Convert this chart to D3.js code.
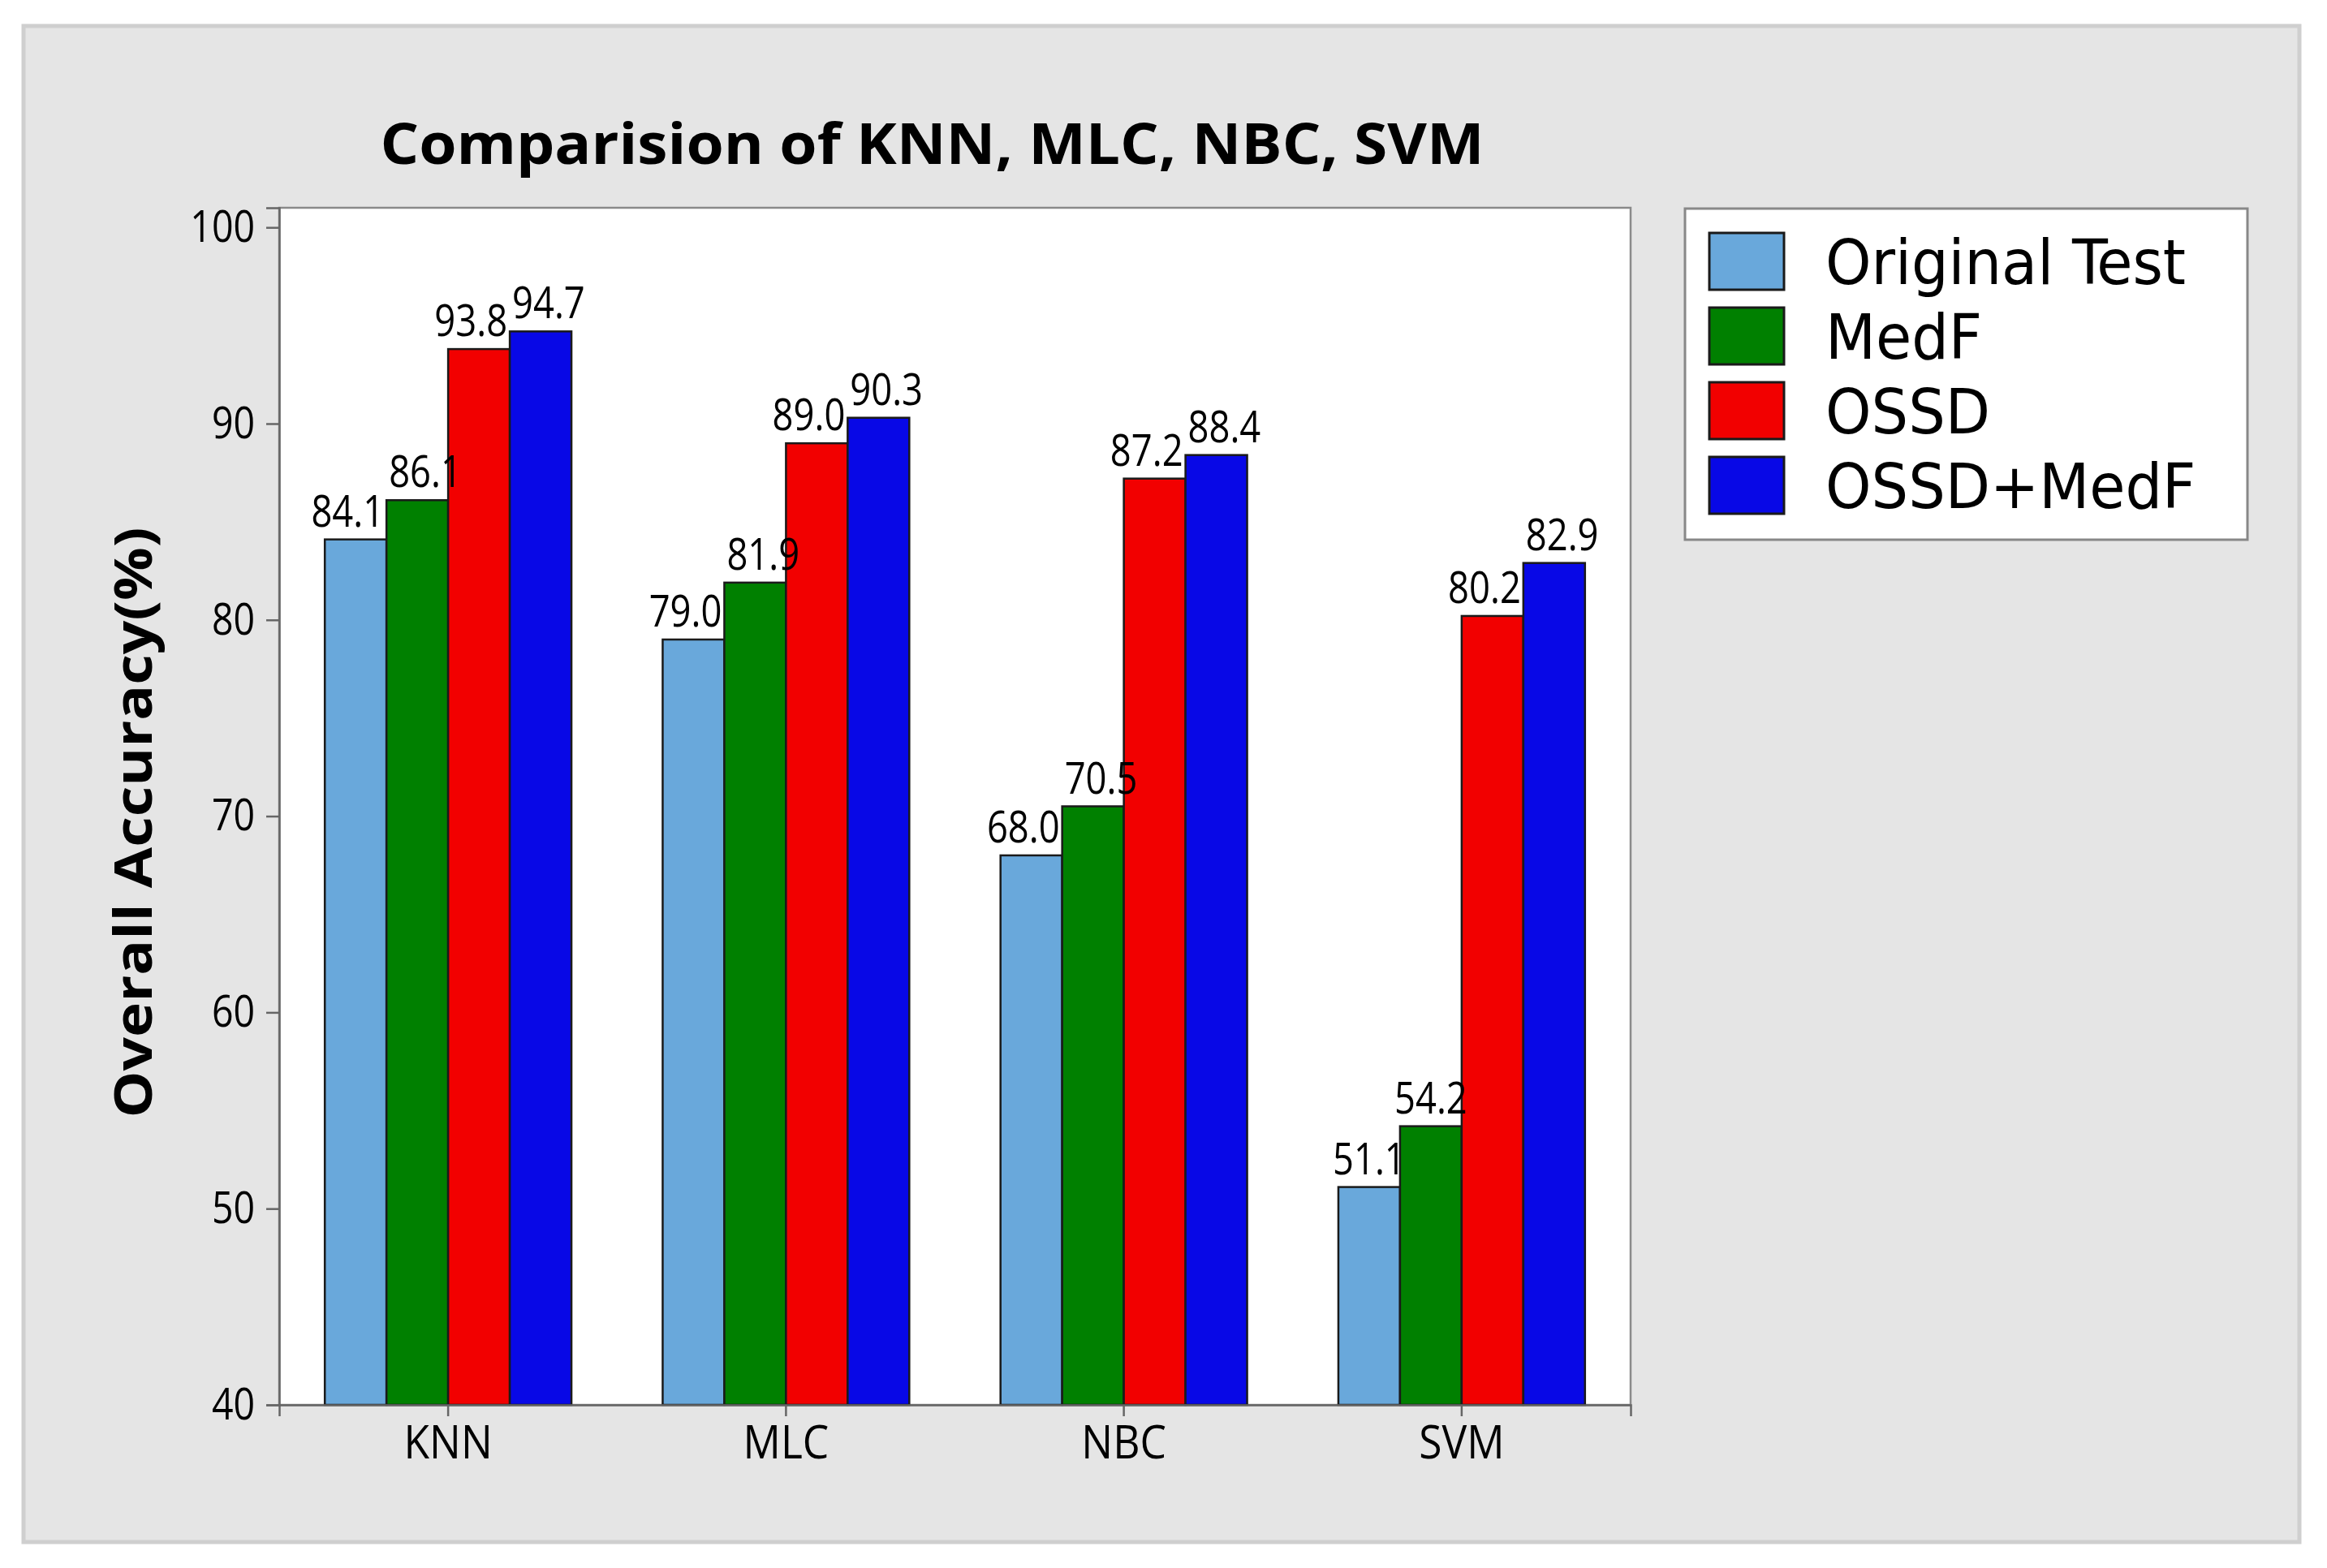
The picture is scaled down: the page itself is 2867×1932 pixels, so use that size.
<!DOCTYPE html>
<html><head><meta charset="utf-8">
<script src="https://cdn.jsdelivr.net/npm/d3@7"></script>
<style>body{margin:0;background:#fff}svg{display:block}</style>
</head><body>
<script>
const categories = ["KNN", "MLC", "NBC", "SVM"];
const seriesNames = ["Original Test", "MedF", "OSSD", "OSSD+MedF"];
const originalTest = [84.1, 79.0, 68.0, 51.1];
const medF = [86.1, 81.9, 70.5, 54.2];
const ossd = [93.8, 89.0, 87.2, 80.2];
const ossdMedF = [94.7, 90.3, 88.4, 82.9];
const yTicks = [40, 50, 60, 70, 80, 90, 100];
const colors = ["#69a8db", "#008000", "#f20000", "#0808e6"];

const seriesValues = [originalTest, medF, ossd, ossdMedF];
const W = 2867, H = 1932;
const M = {left: 344, right: 2009, top: 256, bottom: 1731};

const svg = d3.select("body").append("svg").attr("width", W).attr("height", H);
const font = "'Open Sans', 'Noto Sans', sans-serif";
const legendFont = "'DejaVu Sans Condensed', 'DejaVu Sans', sans-serif";

function condense(sel, f) {
  sel.each(function() {
    const n = this.getComputedTextLength();
    d3.select(this).attr("textLength", n * f).attr("lengthAdjust", "spacingAndGlyphs");
  });
}

// background panel
svg.append("rect").attr("x", 29).attr("y", 32).attr("width", 2804).attr("height", 1868)
  .attr("fill", "#e5e5e5").attr("stroke", "#cfcfcf").attr("stroke-width", 5);

// plot area
svg.append("rect").attr("x", M.left).attr("y", M.top)
  .attr("width", M.right - M.left).attr("height", M.bottom - M.top)
  .attr("fill", "#fff").attr("stroke", "#8a8a8a").attr("stroke-width", 2.5);

const x0 = d3.scaleBand().domain(categories).range([M.left, M.right])
  .paddingInner(0.27).paddingOuter(0.135);
const x1 = d3.scaleBand().domain(seriesNames).range([0, x0.bandwidth()]);
const y = d3.scaleLinear().domain([40, 101]).range([M.bottom, M.top]);

// bars
const groups = svg.append("g").selectAll("g").data(categories).join("g")
  .attr("transform", d => `translate(${x0(d)},0)`);
groups.selectAll("rect").data((c, ci) => seriesNames.map((s, si) => ({s, si, v: seriesValues[si][ci]})))
  .join("rect")
  .attr("x", d => x1(d.s)).attr("width", x1.bandwidth())
  .attr("y", d => y(d.v)).attr("height", d => y(40) - y(d.v))
  .attr("fill", d => colors[d.si]).attr("stroke", "#1a1a1a").attr("stroke-width", 2.5);

// value labels
const vl = groups.selectAll("text").data((c, ci) => seriesNames.map((s, si) => ({s, si, v: seriesValues[si][ci]})))
  .join("text")
  .attr("x", d => x1(d.s) + x1.bandwidth() / 2)
  .attr("y", d => y(d.v) - 16)
  .attr("text-anchor", "middle")
  .attr("font-family", font).attr("font-size", 54).attr("fill", "#000")
  .text(d => d.v.toFixed(1));
condense(vl, 0.84);
// spread overlapping labels apart within each group
groups.each(function() {
  const texts = d3.select(this).selectAll("text").nodes();
  for (let k = 0; k < 3; k++) {
    for (let i = 1; i < texts.length; i++) {
      const a = texts[i - 1], b = texts[i];
      const ba = a.getBBox(), bb = b.getBBox();
      const vOver = ba.y < bb.y + bb.height && bb.y < ba.y + ba.height;
      const hOver = ba.x + ba.width + 6 - bb.x;
      if (vOver && hOver > 0) {
        a.setAttribute("x", +a.getAttribute("x") - hOver / 2);
        b.setAttribute("x", +b.getAttribute("x") + hOver / 2);
      }
    }
  }
});

// y axis
const yAxis = svg.append("g").attr("transform", `translate(${M.left},0)`)
  .call(d3.axisLeft(y).tickValues(yTicks).tickSize(16).tickPadding(14));
yAxis.select(".domain").attr("stroke", "#666").attr("stroke-width", 2.5);
yAxis.selectAll(".tick line").attr("stroke", "#666").attr("stroke-width", 2.5);
const yt = yAxis.selectAll(".tick text").attr("font-family", font).attr("font-size", 54).attr("fill", "#000");
condense(yt, 0.86);

// x axis
const xAxis = svg.append("g").attr("transform", `translate(0,${M.bottom})`)
  .call(d3.axisBottom(x0).tickSize(14).tickPadding(12));
xAxis.select(".domain").attr("stroke", "#666").attr("stroke-width", 2.5);
xAxis.selectAll(".tick line").attr("stroke", "#666").attr("stroke-width", 2.5);
const xt = xAxis.selectAll(".tick text").attr("font-family", font).attr("font-size", 56).attr("fill", "#000");
condense(xt, 0.92);

// title
svg.append("text").attr("x", (M.left + M.right) / 2 - 28).attr("y", 202)
  .attr("text-anchor", "middle").attr("font-family", font).attr("font-weight", "bold")
  .attr("font-size", 70).attr("fill", "#000")
  .text("Comparision of KNN, MLC, NBC, SVM")
  .attr("textLength", 1360).attr("lengthAdjust", "spacingAndGlyphs");

// y label
svg.append("text").attr("transform", `translate(187,${(M.top + M.bottom) / 2 + 20}) rotate(-90)`)
  .attr("text-anchor", "middle").attr("font-family", font).attr("font-weight", "bold")
  .attr("font-size", 64).attr("fill", "#000")
  .text("Overall Accuracy(%)")
  .attr("textLength", 728).attr("lengthAdjust", "spacingAndGlyphs");

// legend
const lg = svg.append("g");
lg.append("rect").attr("x", 2076).attr("y", 257).attr("width", 693).attr("height", 408)
  .attr("fill", "#fff").attr("stroke", "#888").attr("stroke-width", 3);
const rowY = d3.scalePoint().domain(seriesNames).range([322, 598]);
const items = lg.selectAll("g.item").data(seriesNames).join("g").attr("class", "item")
  .attr("transform", d => `translate(0,${rowY(d)})`);
items.append("rect").attr("x", 2106).attr("y", -35).attr("width", 92).attr("height", 70)
  .attr("fill", (d, i) => colors[i]).attr("stroke", "#1a1a1a").attr("stroke-width", 3);
const lt = items.append("text").attr("x", 2249).attr("y", 28)
  .attr("font-family", legendFont).attr("font-size", 77).attr("fill", "#000").text(d => d);
const lf = 444 / lt.node().getComputedTextLength();
condense(lt, lf);
</script>
</body></html>
